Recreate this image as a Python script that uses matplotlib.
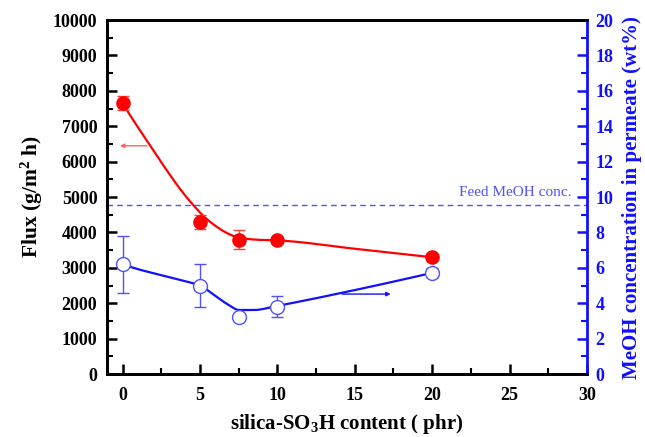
import numpy as np
import matplotlib
matplotlib.use("Agg")
import matplotlib.pyplot as plt
from matplotlib.ticker import MultipleLocator

plt.rcParams['font.family'] = ['Liberation Serif', 'DejaVu Serif']
plt.rcParams['font.weight'] = 'bold'
plt.rcParams['mathtext.fontset'] = 'custom'
plt.rcParams['mathtext.rm'] = 'Liberation Serif:bold'
plt.rcParams['mathtext.bf'] = 'Liberation Serif:bold'
plt.rcParams['mathtext.it'] = 'Liberation Serif:bold:italic'
plt.rcParams['mathtext.default'] = 'rm'

# ---- data ----
content = [0, 5, 7.5, 10, 20]
flux = [7650, 4300, 3800, 3780, 3300]
flux_err = [200, 200, 270, 80, 80]
meoh = [6.2, 5.0, 3.2, 3.8, 5.72]
meoh_err = [1.6, 1.2, 0.12, 0.6, 0.25]
feed_meoh = 9.56

# smooth guide curves
flux_curve_x = [0, 0.76, 1.62, 2.7, 3.77, 4.53, 5.28, 5.93, 6.79, 7.44, 8.73, 10, 15, 20]
flux_curve_y = [7650, 7127, 6562, 5856, 5198, 4793, 4444, 4209, 3974, 3862, 3794, 3776, 3540, 3300]
meoh_curve_x = [0, 1.19, 2.7, 3.77, 5.02, 5.93, 6.79, 7.54, 8.51, 9.92, 14, 20]
meoh_curve_y = [6.2, 5.88, 5.55, 5.31, 4.99, 4.46, 3.94, 3.62, 3.62, 3.84, 4.56, 5.72]

RED = '#ff0000'
BLUE = '#1010ff'
LBLUE = '#5050ff'


def pchip(x, y, xn):
    x = np.asarray(x, float); y = np.asarray(y, float)
    h = np.diff(x); d = np.diff(y) / h
    n = len(x)
    m = np.zeros(n)
    for k in range(1, n - 1):
        if d[k - 1] * d[k] > 0:
            w1 = 2 * h[k] + h[k - 1]; w2 = h[k] + 2 * h[k - 1]
            m[k] = (w1 + w2) / (w1 / d[k - 1] + w2 / d[k])
    m[0] = ((2 * h[0] + h[1]) * d[0] - h[0] * d[1]) / (h[0] + h[1])
    if np.sign(m[0]) != np.sign(d[0]): m[0] = 0
    m[-1] = ((2 * h[-1] + h[-2]) * d[-1] - h[-1] * d[-2]) / (h[-1] + h[-2])
    if np.sign(m[-1]) != np.sign(d[-1]): m[-1] = 0
    xn = np.asarray(xn, float)
    idx = np.clip(np.searchsorted(x, xn) - 1, 0, n - 2)
    t = (xn - x[idx]) / h[idx]
    h00 = 2 * t**3 - 3 * t**2 + 1; h10 = t**3 - 2 * t**2 + t
    h01 = -2 * t**3 + 3 * t**2; h11 = t**3 - t**2
    return h00 * y[idx] + h10 * h[idx] * m[idx] + h01 * y[idx + 1] + h11 * h[idx] * m[idx + 1]


fig = plt.figure(figsize=(6.45, 4.37), dpi=100)
ax = fig.add_axes([0.166, 0.144, 0.744, 0.810])
ax2 = ax.twinx()

xs = np.linspace(0, 20, 400)
ax.plot(xs, pchip(flux_curve_x, flux_curve_y, xs), color=RED, lw=1.6, zorder=3)
ax.errorbar(content, flux, yerr=flux_err, fmt='o', color=RED, ms=9.5,
            ecolor='#ff4040', elinewidth=1, capsize=4, capthick=1, zorder=4)

ax2.plot(xs, pchip(meoh_curve_x, meoh_curve_y, xs), color=BLUE, lw=1.6, zorder=3)
ax2.errorbar(content, meoh, yerr=meoh_err, fmt='o', color=LBLUE, ms=10,
             mfc='white', mec=LBLUE, mew=1.0, elinewidth=1, capsize=4,
             capthick=1, zorder=4)
ax2.axhline(feed_meoh, color=LBLUE, ls=(0, (4, 3)), lw=1)
ax2.text(29.0, feed_meoh + 0.35, 'Feed MeOH conc.', color=LBLUE, fontsize=11,
         fontweight='normal', ha='right', va='bottom')

# arrows
ax.annotate('', xy=(-0.35, 6450), xytext=(1.75, 6450),
            arrowprops=dict(arrowstyle='-|>', color='#ff6060', lw=1,
                            mutation_scale=6))
ax2.annotate('', xy=(17.5, 4.52), xytext=(14.0, 4.52),
             arrowprops=dict(arrowstyle='-|>', color=BLUE, lw=1,
                             mutation_scale=6))

ax.set_xlim(-1, 30)
ax.set_ylim(0, 10000)
ax2.set_ylim(0, 20)

ax.xaxis.set_major_locator(MultipleLocator(5))
ax.xaxis.set_minor_locator(MultipleLocator(2.5))
ax.yaxis.set_major_locator(MultipleLocator(1000))
ax.yaxis.set_minor_locator(MultipleLocator(500))
ax2.yaxis.set_major_locator(MultipleLocator(2))
ax2.yaxis.set_minor_locator(MultipleLocator(1))

ax.tick_params(axis='both', which='major', direction='in', length=7, width=1.8,
               labelsize=13, top=False, pad=7)
ax.tick_params(axis='both', which='minor', direction='in', length=4, width=1.5,
               top=False)
ax.tick_params(axis='x', which='major', pad=9)
ax2.tick_params(axis='y', which='major', direction='in', length=7, width=1.8,
                colors=BLUE, labelsize=13, pad=6)
ax2.tick_params(axis='y', which='minor', direction='in', length=4, width=1.5,
                colors=BLUE)

for t in ax.get_xticklabels() + ax.get_yticklabels() + ax2.get_yticklabels():
    t.set_fontweight('bold')

for s in ['left', 'bottom', 'top']:
    ax.spines[s].set_linewidth(2)
    ax2.spines[s].set_linewidth(2)
ax2.spines['right'].set_linewidth(2)
ax2.spines['right'].set_color(BLUE)
ax.spines['right'].set_visible(False)

ax.set_xlabel('silica-SO$_3$H content ( phr)', fontsize=15, fontweight='bold',
              labelpad=6)
ax.set_ylabel('Flux (g/m$^2$ h)', fontsize=15.5, fontweight='bold', labelpad=6)
ax2.set_ylabel('MeOH concentration in permeate (wt%)', fontsize=15,
               fontweight='bold', color=BLUE, labelpad=6)

fig.savefig('out.png', dpi=100)
